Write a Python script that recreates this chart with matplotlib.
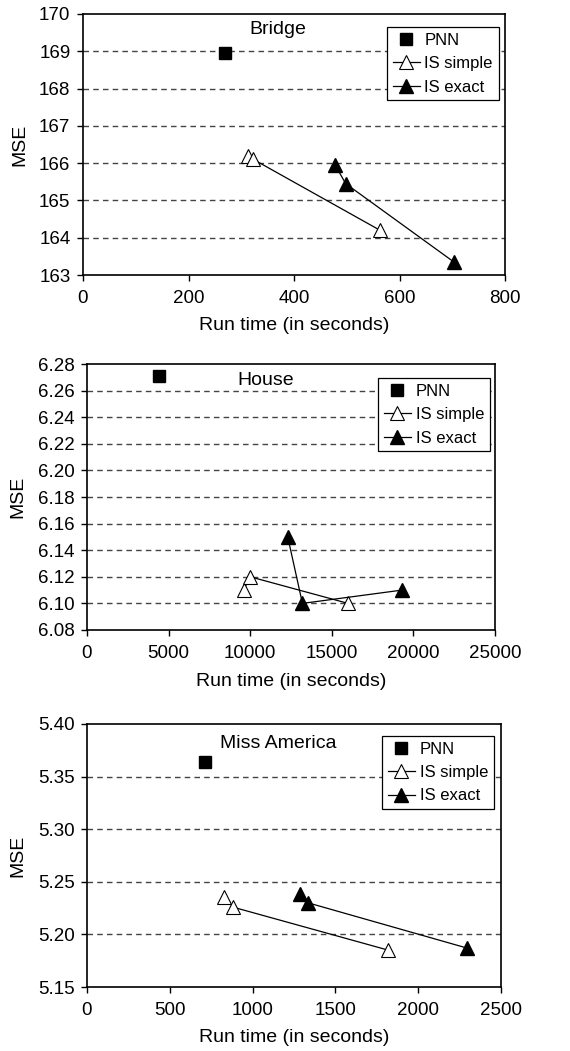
import matplotlib.pyplot as plt

plt.rcParams['font.family'] = ['Liberation Sans', 'DejaVu Sans']
plt.rcParams['font.size'] = 12

# Bridge
bridge_pnn_x = [270]
bridge_pnn_y = [168.95]
bridge_simple_x = [313, 323, 563]
bridge_simple_y = [166.2, 166.1, 164.2]
bridge_exact_x = [478, 498, 703]
bridge_exact_y = [165.95, 165.45, 163.35]

# House
house_pnn_x = [4400]
house_pnn_y = [6.271]
house_simple_x = [9600, 10000, 16000]
house_simple_y = [6.11, 6.12, 6.10]
house_exact_x = [12300, 13200, 19300]
house_exact_y = [6.15, 6.10, 6.11]

# Miss America
miss_pnn_x = [710]
miss_pnn_y = [5.364]
miss_simple_x = [830, 880, 1820]
miss_simple_y = [5.236, 5.226, 5.185]
miss_exact_x = [1285, 1335, 2295]
miss_exact_y = [5.238, 5.230, 5.187]

panels = [
    dict(name="Bridge", pnn=(bridge_pnn_x, bridge_pnn_y),
         simple=(bridge_simple_x, bridge_simple_y), exact=(bridge_exact_x, bridge_exact_y),
         xlim=(0, 800), xticks=[0, 200, 400, 600, 800],
         ylim=(163, 170), yticks=[163, 164, 165, 166, 167, 168, 169, 170], yfmt="{:.0f}",
         rect=[83/570, 1-275/1051, 422/570, 261/1051],
         title_xy=(278, 30), leg=(387, 27), xlab_y=325),
    dict(name="House", pnn=(house_pnn_x, house_pnn_y),
         simple=(house_simple_x, house_simple_y), exact=(house_exact_x, house_exact_y),
         xlim=(0, 25000), xticks=[0, 5000, 10000, 15000, 20000, 25000],
         ylim=(6.08, 6.28), yticks=[6.08, 6.10, 6.12, 6.14, 6.16, 6.18, 6.20, 6.22, 6.24, 6.26, 6.28],
         yfmt="{:.2f}",
         rect=[87/570, 1-630/1051, 408/570, 266/1051],
         title_xy=(266, 380), leg=(378, 378), xlab_y=681),
    dict(name="Miss America", pnn=(miss_pnn_x, miss_pnn_y),
         simple=(miss_simple_x, miss_simple_y), exact=(miss_exact_x, miss_exact_y),
         xlim=(0, 2500), xticks=[0, 500, 1000, 1500, 2000, 2500],
         ylim=(5.15, 5.40), yticks=[5.15, 5.20, 5.25, 5.30, 5.35, 5.40], yfmt="{:.2f}",
         rect=[87/570, 1-987/1051, 414/570, 263/1051],
         title_xy=(278, 743), leg=(382, 736), xlab_y=1038),
]

fig = plt.figure(figsize=(5.7, 10.51), dpi=100)

for p in panels:
    ax = fig.add_axes(p["rect"])
    ax.plot(*p["pnn"], linestyle="none", marker="s", color="black", markersize=9, label="PNN", zorder=3)
    ax.plot(*p["simple"], color="black", linewidth=0.9, marker="^", markerfacecolor="white",
            markeredgecolor="black", markeredgewidth=0.8, markersize=10, label="IS simple", zorder=3)
    ax.plot(*p["exact"], color="black", linewidth=0.9, marker="^", markerfacecolor="black",
            markersize=10, label="IS exact", zorder=3)
    ax.set_xlim(*p["xlim"])
    ax.set_ylim(*p["ylim"])
    ax.set_xticks(p["xticks"])
    ax.set_yticks(p["yticks"])
    ax.set_yticklabels([p["yfmt"].format(v) for v in p["yticks"]])
    for v in p["yticks"][1:-1]:
        ax.axhline(v, color="#444444", linestyle=(0, (4, 3)), linewidth=1.0, zorder=1)
    ax.tick_params(direction="out", length=4, width=1, labelsize=13.5)
    ax.tick_params(axis="x", pad=7)
    ax.tick_params(axis="y", pad=5)
    for s in ax.spines.values():
        s.set_linewidth(1.2)
    ax.set_ylabel("MSE", fontsize=14, labelpad=8)
    fig.text((p["rect"][0] + p["rect"][2] / 2), 1 - p["xlab_y"]/1051, "Run time (in seconds)",
             ha="center", va="center", fontsize=14)
    tx, ty = p["title_xy"]
    fig.text(tx/570, 1-ty/1051, p["name"], ha="center", va="center", fontsize=14)
    lx, ly = p["leg"]
    leg = ax.legend(loc="upper left", bbox_to_anchor=(lx/570, 1-ly/1051),
                    bbox_transform=fig.transFigure, fancybox=False, edgecolor="black",
                    framealpha=1, fontsize=12, handlelength=1.6, handletextpad=0.3,
                    borderpad=0.35, labelspacing=0.5, borderaxespad=0)
    leg.get_frame().set_linewidth(0.9)

fig.savefig("out.png", dpi=100)
